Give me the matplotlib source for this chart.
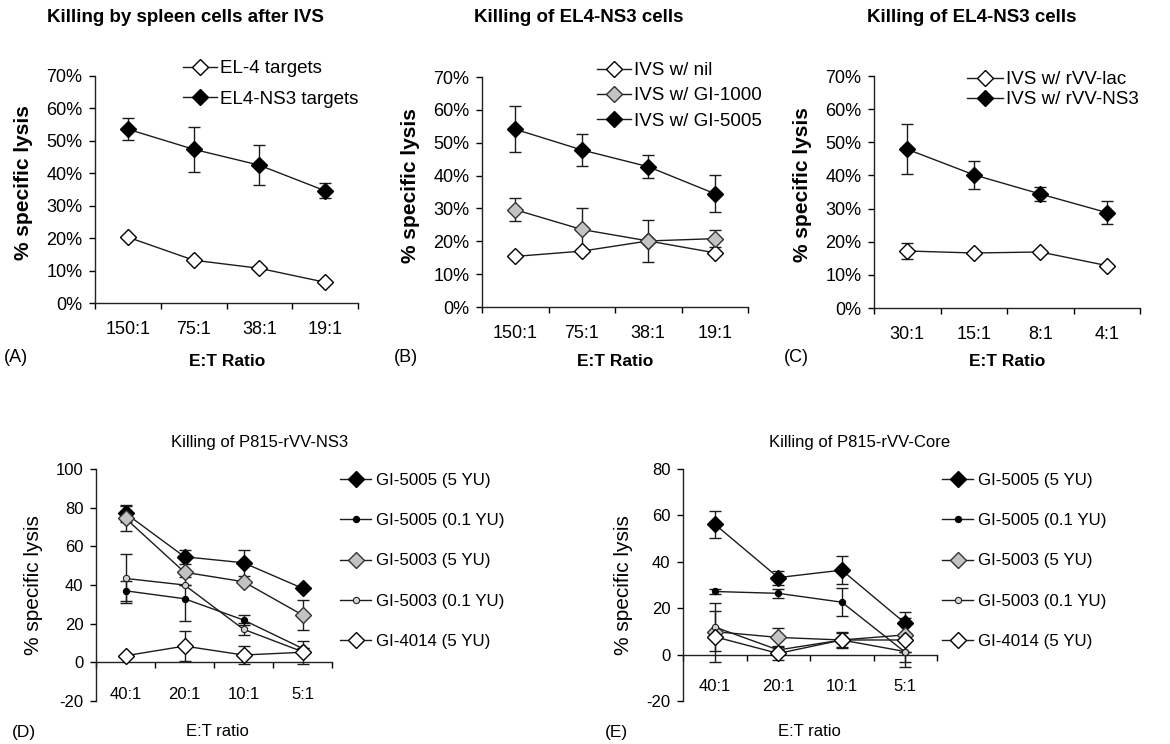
import matplotlib
matplotlib.use("Agg")
import matplotlib.pyplot as plt
from matplotlib.ticker import FuncFormatter, FixedLocator

plt.rcParams['font.family'] = ['Liberation Sans', 'DejaVu Sans']
plt.rcParams['axes.unicode_minus'] = False

# ---- data ----
ratios_ab = ['150:1', '75:1', '38:1', '19:1']
ratios_c = ['30:1', '15:1', '8:1', '4:1']
ratios_de = ['40:1', '20:1', '10:1', '5:1']

# panel A
a_el4 = [20.3, 13.2, 10.7, 6.4]
a_el4_err = [0, 0, 0, 0]
a_ns3 = [53.6, 47.4, 42.5, 34.6]
a_ns3_err = [3.4, 7.0, 6.1, 2.3]

# panel B
b_nil = [15.4, 17.0, 20.1, 16.5]
b_nil_err = [0, 0, 0, 0]
b_gi1000 = [29.6, 23.6, 20.1, 20.8]
b_gi1000_err = [3.5, 6.6, 6.3, 2.5]
b_gi5005 = [54.1, 47.8, 42.7, 34.5]
b_gi5005_err = [7.0, 4.9, 3.5, 5.7]

# panel C
c_lac = [17.2, 16.6, 16.9, 12.8]
c_lac_err = [2.5, 0, 0, 0]
c_ns3 = [47.9, 40.2, 34.4, 28.8]
c_ns3_err = [7.6, 4.2, 2.0, 3.5]

# panel D
d_5005_5 = [77.1, 54.6, 51.5, 38.3]
d_5005_5_err = [4.5, 3.5, 6.6, 0]
d_5005_01 = [37.0, 32.9, 21.9, 7.2]
d_5005_01_err = [5.3, 11.4, 2.5, 0]
d_5003_5 = [74.5, 46.6, 41.7, 24.5]
d_5003_5_err = [6.6, 0, 0, 8.0]
d_5003_01 = [43.4, 40.0, 17.1, 5.5]
d_5003_01_err = [12.5, 0, 3.0, 0]
d_4014_5 = [3.4, 8.4, 3.8, 5.2]
d_4014_5_err = [0, 7.8, 4.8, 6.0]

# panel E
e_5005_5 = [56.2, 33.2, 36.4, 13.5]
e_5005_5_err = [5.9, 3.0, 6.0, 5.0]
e_5005_01 = [27.2, 26.4, 22.6, 1.0]
e_5005_01_err = [1.0, 2.0, 6.0, 0]
e_5003_5 = [9.9, 7.4, 6.3, 8.5]
e_5003_5_err = [0, 4.0, 0, 0]
e_5003_01 = [11.9, 2.0, 6.3, 1.3]
e_5003_01_err = [10.3, 0, 3.6, 6.5]
e_4014_5 = [7.7, 0.5, 6.3, 6.3]
e_4014_5_err = [11.0, 3.0, 3.0, 9.5]

LC = '#1c1c1c'
GRAY = '#c3c3c3'

big_white = dict(marker='D', ms=7.8, mfc='white', mec='black', mew=1.0)
big_black = dict(marker='D', ms=7.8, mfc='black', mec='black', mew=1.0)
big_gray = dict(marker='D', ms=7.8, mfc=GRAY, mec='#333333', mew=1.0)
sm_black = dict(marker='o', ms=4.5, mfc='black', mec='black', mew=0.8)
sm_gray = dict(marker='o', ms=4.5, mfc='#d4d4d4', mec='#222222', mew=0.8)


def series(ax, x, y, err, style, label):
    if any(e > 0 for e in err):
        ax.errorbar(x, y, yerr=err, fmt='none', ecolor=LC, elinewidth=1.0,
                    capsize=4, capthick=1.0, zorder=2)
    ln, = ax.plot(x, y, color=LC, lw=1.0, label=label, zorder=3, **style)
    return ln


def setup_cat_axis(ax, labels, fs, pad, zero_spine=False):
    ax.spines['top'].set_visible(False)
    ax.spines['right'].set_visible(False)
    if zero_spine:
        ax.spines['bottom'].set_position(('data', 0))
    x = list(range(len(labels)))
    ax.set_xlim(-0.5, len(labels) - 0.5)
    ax.set_xticks(x)
    ax.set_xticklabels(labels)
    ax.xaxis.set_minor_locator(FixedLocator([i - 0.5 for i in range(len(labels) + 1)]))
    ax.tick_params(axis='x', which='major', length=0, pad=pad, labelsize=fs)
    ax.tick_params(axis='x', which='minor', length=4, width=1, direction='out')
    ax.tick_params(axis='y', which='major', length=4, width=1, direction='out', pad=5, labelsize=fs)
    for s in ('left', 'bottom'):
        ax.spines[s].set_linewidth(1.0)
        ax.spines[s].set_color('#222222')
    return x


fig = plt.figure(figsize=(11.7, 7.44), dpi=100)
W, H = 1170.0, 744.0


def px_axes(l, t, r, b):
    return fig.add_axes([l / W, 1 - b / H, (r - l) / W, (b - t) / H])


def legend_at(ax, handles, x, y, fs, spacing, hl, tp):
    ax.legend(handles=handles, loc='upper left', bbox_to_anchor=(x / W, 1 - y / H),
              bbox_transform=fig.transFigure, frameon=False, fontsize=fs,
              labelspacing=spacing, handlelength=hl, handletextpad=tp,
              borderpad=0, borderaxespad=0, numpoints=1)


pct = FuncFormatter(lambda v, p: '%d%%' % v)

# ---------- top row ----------
top_panels = [
    ((95, 76, 358, 303), 'Killing by spleen cells after IVS', ratios_ab, '(A)', 185, 227, 16, -0.237),
    ((482, 77, 748, 307), 'Killing of EL4-NS3 cells', ratios_ab, '(B)', 579, 615, 406, -0.233),
    ((874, 76, 1140, 308), 'Killing of EL4-NS3 cells', ratios_c, '(C)', 972, 1007, 796, -0.233),
]
axes_top = []
for box, title, labels, tag, tx, xlx, tagx, ylx in top_panels:
    ax = px_axes(*box)
    setup_cat_axis(ax, labels, 13, 13)
    ax.set_ylim(0, 70)
    ax.set_yticks(range(0, 71, 10))
    ax.yaxis.set_major_formatter(pct)
    ax.set_ylabel('% specific lysis', fontsize=15, fontweight='bold')
    ax.yaxis.set_label_coords(ylx, 0.53)
    fig.text(tx / W, 1 - 18 / H, title, fontsize=13.5, fontweight='bold', ha='center', va='center')
    fig.text(xlx / W, 1 - 362 / H, 'E:T Ratio', fontsize=12.5, fontweight='bold', ha='center', va='center')
    fig.text(tagx / W, 1 - 357 / H, tag, fontsize=13, ha='center', va='center')
    axes_top.append(ax)

axA, axB, axC = axes_top
x = range(4)
h1 = series(axA, x, a_el4, a_el4_err, big_white, 'EL-4 targets')
h2 = series(axA, x, a_ns3, a_ns3_err, big_black, 'EL4-NS3 targets')
legend_at(axA, [h1, h2], 183, 60, 13.5, 0.72, 1.8, 0.2)

h1 = series(axB, x, b_nil, b_nil_err, big_white, 'IVS w/ nil')
h2 = series(axB, x, b_gi1000, b_gi1000_err, big_gray, 'IVS w/ GI-1000')
h3 = series(axB, x, b_gi5005, b_gi5005_err, big_black, 'IVS w/ GI-5005')
legend_at(axB, [h1, h2, h3], 597, 62, 13.5, 0.44, 1.8, 0.2)

h1 = series(axC, x, c_lac, c_lac_err, big_white, 'IVS w/ rVV-lac')
h2 = series(axC, x, c_ns3, c_ns3_err, big_black, 'IVS w/ rVV-NS3')
legend_at(axC, [h1, h2], 967, 71, 13.5, 0.15, 1.9, 0.2)

# ---------- bottom row ----------
bottom_panels = [
    ((96, 469, 332, 701), 'Killing of P815-rVV-NS3', (-20, 100), '(D)', 260, 217, 24, -0.225, 340),
    ((683, 469, 937, 701), 'Killing of P815-rVV-Core', (-20, 80), '(E)', 860, 809, 616, -0.197, 942),
]
bottom_data = [
    [(d_5005_5, d_5005_5_err), (d_5005_01, d_5005_01_err), (d_5003_5, d_5003_5_err),
     (d_5003_01, d_5003_01_err), (d_4014_5, d_4014_5_err)],
    [(e_5005_5, e_5005_5_err), (e_5005_01, e_5005_01_err), (e_5003_5, e_5003_5_err),
     (e_5003_01, e_5003_01_err), (e_4014_5, e_4014_5_err)],
]
names = ['GI-5005 (5 YU)', 'GI-5005 (0.1 YU)', 'GI-5003 (5 YU)', 'GI-5003 (0.1 YU)', 'GI-4014 (5 YU)']
styles = [big_black, sm_black, big_gray, sm_gray, big_white]

for (box, title, ylim, tag, tx, xlx, tagx, ylx, legx), dat in zip(bottom_panels, bottom_data):
    ax = px_axes(*box)
    setup_cat_axis(ax, ratios_de, 12, 17.5, zero_spine=True)
    ax.set_ylim(*ylim)
    ax.set_yticks(range(ylim[0], ylim[1] + 1, 20))
    ax.set_ylabel('% specific lysis', fontsize=15)
    ax.yaxis.set_label_coords(ylx, 0.5)
    fig.text(tx / W, 1 - 443 / H, title, fontsize=12, ha='center', va='center')
    fig.text(xlx / W, 1 - 732 / H, 'E:T ratio', fontsize=12, ha='center', va='center')
    fig.text(tagx / W, 1 - 733 / H, tag, fontsize=12.5, ha='center', va='center')
    hs = []
    for (yv, ev), st, nm in zip(dat, styles, names):
        hs.append(series(ax, x, yv, ev, st, nm))
    legend_at(ax, hs, legx, 473, 12.2, 1.49, 1.85, 0.3)

fig.savefig('out.png', dpi=100)
